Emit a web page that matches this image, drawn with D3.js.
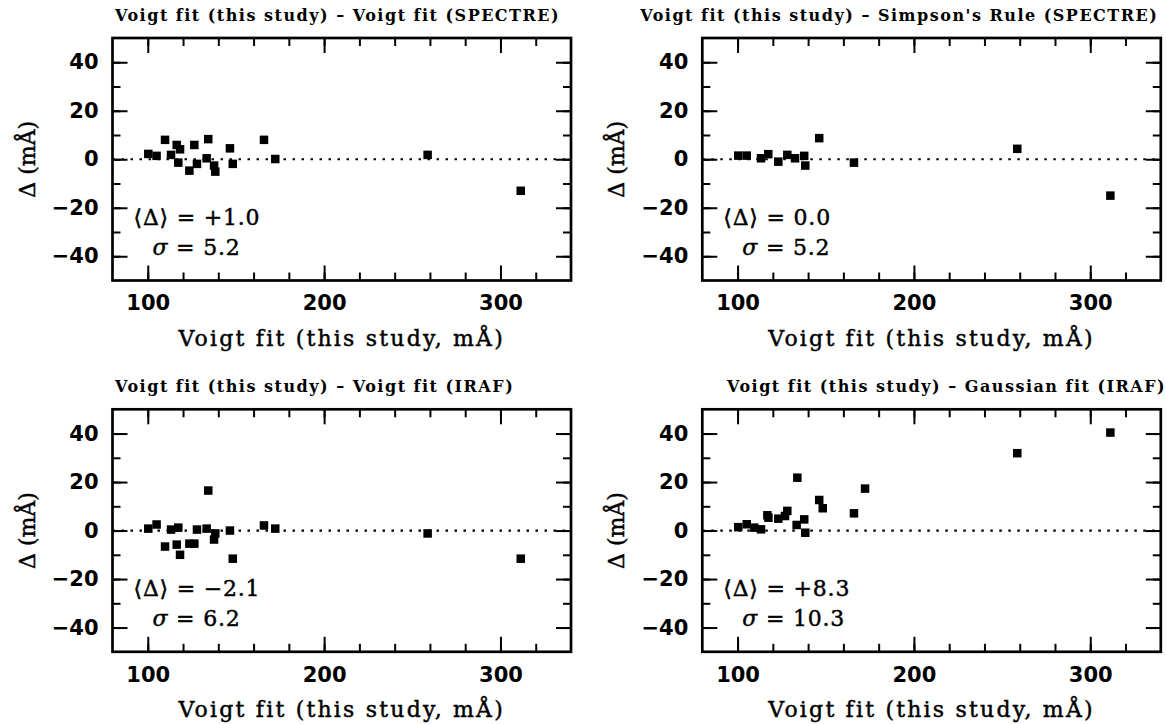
<!DOCTYPE html>
<html>
<head>
<meta charset="utf-8">
<script src="https://cdn.jsdelivr.net/npm/d3@7"></script>
<style>
  body { margin: 0; background: #fff; }
  svg { display: block; }
</style>
</head>
<body>
<div id="chart"></div>
<script>
// Valeurs (largeur équivalente, mÅ)
const titles = [
    "Voigt fit (this study) \u2013 Voigt fit (SPECTRE)",
    "Voigt fit (this study) \u2013 Simpson's Rule (SPECTRE)",
    "Voigt fit (this study) \u2013 Voigt fit (IRAF)",
    "Voigt fit (this study) \u2013 Gaussian fit (IRAF)"
];
const meanLabels = ["+1.0", "0.0", "\u22122.1", "+8.3"];
const sigmaLabels = ["5.2", "5.2", "6.2", "10.3"];

const xSpectreVoigt = [100.3, 105.0, 109.8, 113.2, 116.4, 117.3, 118.3, 123.6, 126.4, 127.9, 133.4, 134.3, 137.6, 138.3, 146.6, 148.2, 165.9, 172.3, 258.7, 311.5];
const dSpectreVoigt = [2.2, 1.4, 8.0, 1.8, 5.9, -1.4, 4.1, -4.7, 5.9, -1.9, 0.4, 8.3, -2.6, -5.1, 4.5, -1.9, 8.0, 0.1, 1.8, -13.0];

const xSimpson = [100.4, 105.2, 113.3, 117.4, 123.1, 128.2, 132.6, 137.8, 138.4, 146.3, 166.0, 258.6, 311.4];
const dSimpson = [1.5, 1.5, 0.4, 2.1, -1.0, 1.8, 0.4, 1.4, -2.6, 8.7, -1.4, 4.3, -15.0];

const xIrafVoigt = [100.3, 105.0, 109.8, 113.2, 116.4, 117.3, 118.3, 123.6, 126.4, 127.9, 133.4, 134.3, 137.6, 138.3, 146.6, 148.2, 165.9, 172.3, 258.7, 311.5];
const dIrafVoigt = [0.8, 2.5, -6.6, 0.4, -5.8, 1.2, -10.0, -5.4, -5.4, 0.4, 0.8, 16.5, -3.7, -1.2, 0.0, -11.6, 2.1, 0.8, -1.2, -11.6];

const xIrafGauss = [100.4, 105.2, 109.5, 113.3, 116.9, 117.5, 123.1, 126.9, 128.2, 133.5, 133.9, 137.8, 138.4, 146.3, 148.3, 166.0, 172.3, 258.6, 311.4];
const dIrafGauss = [1.4, 2.6, 1.2, 0.5, 6.3, 5.3, 4.9, 6.0, 8.1, 2.3, 21.8, 4.6, -0.9, 12.6, 9.2, 7.1, 17.3, 31.9, 40.4];

const xMajor = [100, 200, 300];
const xMinor = [100, 120, 140, 160, 180, 200, 220, 240, 260, 280, 300, 320];
const yMajor = [-40, -20, 0, 20, 40];
const yMinor = [-40, -30, -20, -10, 0, 10, 20, 30, 40];

const panelsX = [xSpectreVoigt, xSimpson, xIrafVoigt, xIrafGauss];
const panelsD = [dSpectreVoigt, dSimpson, dIrafVoigt, dIrafGauss];

// Mise en page
const WIDTH = 1166;
const HEIGHT = 724;
const PANEL_W = 458.5;
const PANEL_H = 242.5;
const ORIGINS = [[112.5, 38], [702.3, 38], [112.5, 409.3], [702.3, 409.3]];
const TITLE_POS = [['start', 2.5], ['end', 456], ['start', 2.5], ['start', 24.7]];
const SERIF = "'DejaVu Serif', 'Liberation Serif', serif";
const SANS = "'DejaVu Sans', 'Liberation Sans', sans-serif";

const svg = d3.select('#chart').append('svg')
    .attr('width', WIDTH)
    .attr('height', HEIGHT);

function styleAxis(g, showLabels) {
    g.select('.domain').remove();
    g.selectAll('.tick line').attr('stroke', '#000').attr('stroke-width', 2);
    if (!showLabels) {
        g.selectAll('.tick text').remove();
    } else {
        g.selectAll('.tick text')
            .attr('fill', '#000')
            .attr('font-family', SANS)
            .attr('font-weight', 'bold')
            .attr('font-size', 21);
    }
}

// Texte à empattements, un peu épaissi et espacé (police de type Hershey)
function serifText(sel, spacing) {
    return sel.attr('font-family', SERIF)
        .attr('font-size', 22)
        .attr('letter-spacing', spacing)
        .attr('fill', '#000')
        .attr('stroke', '#000')
        .attr('stroke-width', 0.45);
}

function drawPanel(i) {
    const [ox, oy] = ORIGINS[i];
    const g = svg.append('g').attr('transform', `translate(${ox},${oy})`);

    const x = d3.scaleLinear().domain([80, 340]).range([0, PANEL_W]);
    const y = d3.scaleLinear().domain([-50, 50]).range([PANEL_H, 0]);

    // Graduations mineures (tous les côtés, vers l'intérieur)
    const minorSpecs = [
        [d3.axisBottom(x).tickValues(xMinor), `translate(0,${PANEL_H})`],
        [d3.axisTop(x).tickValues(xMinor), 'translate(0,0)'],
        [d3.axisLeft(y).tickValues(yMinor), 'translate(0,0)'],
        [d3.axisRight(y).tickValues(yMinor), `translate(${PANEL_W},0)`]
    ];
    minorSpecs.forEach(([axis, tr]) => {
        g.append('g').attr('transform', tr)
            .call(axis.tickSize(-8).tickFormat(''))
            .call(a => styleAxis(a, false));
    });

    // Graduations majeures
    g.append('g').attr('transform', `translate(0,${PANEL_H})`)
        .call(d3.axisBottom(x).tickValues(xMajor).tickSize(-15).tickPadding(15).tickFormat(d3.format('d')))
        .call(a => styleAxis(a, true));
    g.append('g')
        .call(d3.axisTop(x).tickValues(xMajor).tickSize(-15))
        .call(a => styleAxis(a, false));
    g.append('g')
        .call(d3.axisLeft(y).tickValues(yMajor).tickSize(-15).tickPadding(14))
        .call(a => styleAxis(a, true));
    g.append('g').attr('transform', `translate(${PANEL_W},0)`)
        .call(d3.axisRight(y).tickValues(yMajor).tickSize(-15))
        .call(a => styleAxis(a, false));

    // Ligne zéro pointillée
    g.append('line')
        .attr('x1', x.range()[0]).attr('x2', x.range()[1])
        .attr('y1', y(0)).attr('y2', y(0))
        .attr('stroke', '#000')
        .attr('stroke-width', 2.2)
        .attr('stroke-dasharray', '2.5,6.5');

    // Points
    const pts = panelsX[i].map((v, k) => ({ x: v, d: panelsD[i][k] }));
    const s = 8.5;
    g.selectAll('.pt')
        .data(pts)
        .enter()
        .append('rect')
        .attr('class', 'pt')
        .attr('x', d => x(d.x) - s / 2)
        .attr('y', d => y(d.d) - s / 2)
        .attr('width', s)
        .attr('height', s)
        .attr('fill', '#000');

    // Cadre
    g.append('rect')
        .attr('width', PANEL_W)
        .attr('height', PANEL_H)
        .attr('fill', 'none')
        .attr('stroke', '#000')
        .attr('stroke-width', 2.7);

    // Titre
    g.append('text')
        .attr('x', TITLE_POS[i][1])
        .attr('y', -17)
        .attr('font-family', SERIF)
        .attr('font-weight', 'bold')
        .attr('font-size', 16)
        .attr('letter-spacing', 1.5)
        .attr('text-anchor', TITLE_POS[i][0])
        .text(titles[i]);

    // Légende de l'axe X
    serifText(g.append('text'), 2.2)
        .attr('x', PANEL_W / 2)
        .attr('y', PANEL_H + 65)
        .attr('text-anchor', 'middle')
        .text('Voigt fit (this study, mÅ)');

    // Légende de l'axe Y
    serifText(g.append('text'), 0)
        .attr('transform', `translate(${-78},${PANEL_H / 2}) rotate(-90)`)
        .attr('text-anchor', 'middle')
        .text('\u0394 (mÅ)');

    // Statistiques
    serifText(g.append('text'), 0.8)
        .attr('x', 21)
        .attr('y', 187)
        .text(`\u27E8\u0394\u27E9 = ${meanLabels[i]}`);
    const sig = serifText(g.append('text'), 0.8)
        .attr('x', 40)
        .attr('y', 217);
    sig.append('tspan').attr('font-style', 'italic').text('\u03C3');
    sig.append('tspan').text(` = ${sigmaLabels[i]}`);
}

[0, 1, 2, 3].forEach(drawPanel);
</script>
</body>
</html>
